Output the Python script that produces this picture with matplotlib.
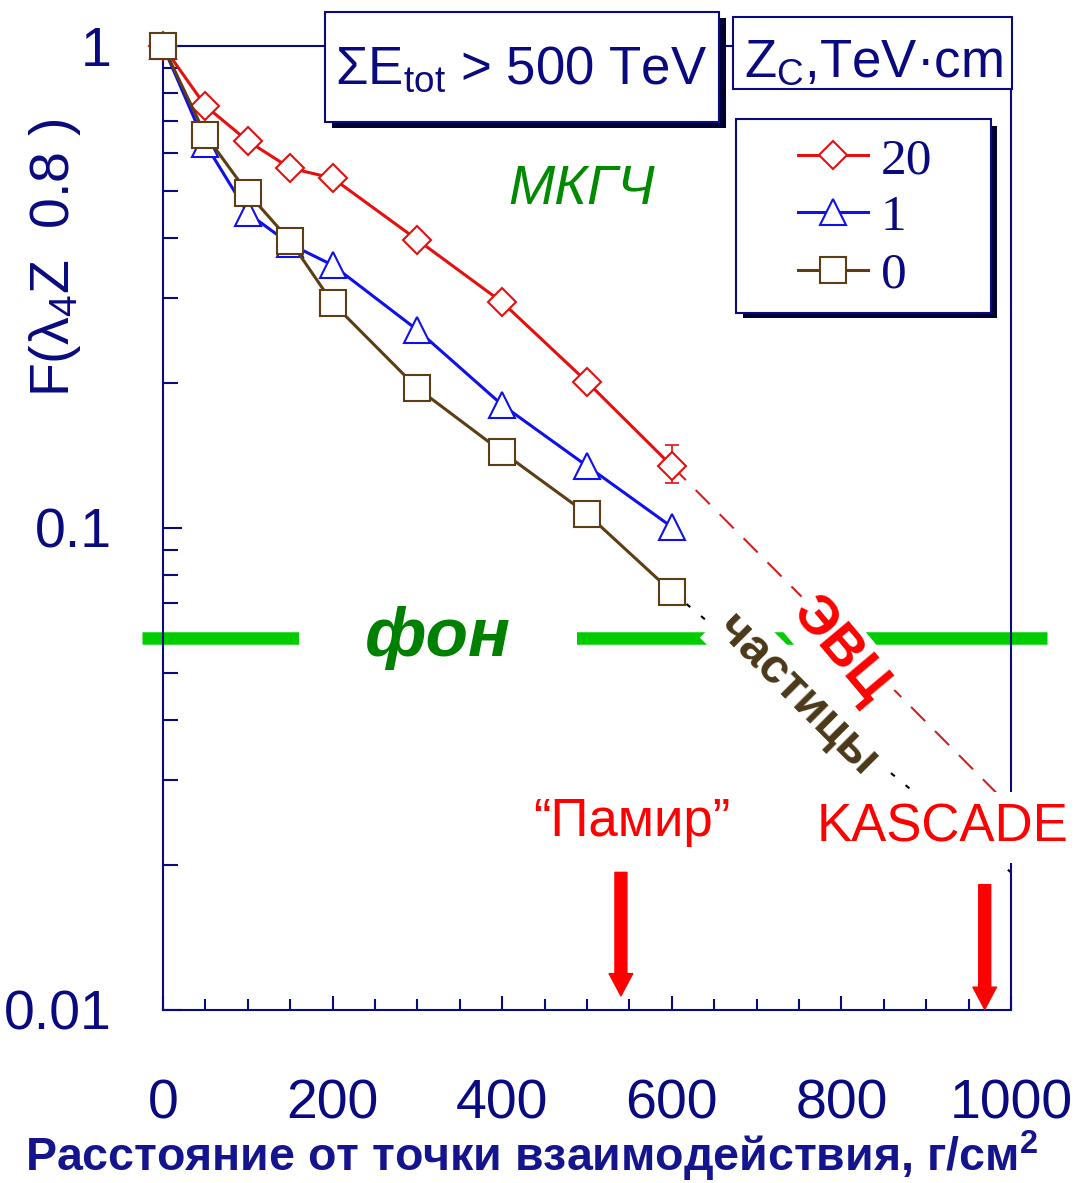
import numpy as np
import matplotlib
matplotlib.use('Agg')
import matplotlib.pyplot as plt
from matplotlib.patches import Rectangle
from matplotlib.ticker import LogLocator, NullFormatter

plt.rcParams['font.family'] = ['Liberation Sans', 'DejaVu Sans']
plt.rcParams['mathtext.fontset'] = 'custom'
plt.rcParams['mathtext.rm'] = 'Liberation Sans'
plt.rcParams['mathtext.it'] = 'Liberation Sans:italic'
plt.rcParams['mathtext.bf'] = 'Liberation Sans:bold'

# данные
depth = [0, 50, 100, 150, 200, 300, 400, 500, 600]
f_zc20 = [1.0, 0.751, 0.635, 0.558, 0.532, 0.396, 0.294, 0.201, 0.1345]
f_zc1 = [1.0, 0.626, 0.450, 0.388, 0.351, 0.2575, 0.180, 0.1345, 0.1005]
f_zc0 = [1.0, 0.654, 0.4955, 0.394, 0.293, 0.195, 0.1438, 0.107, 0.0737]
err20_lo, err20_hi = 0.0105, 0.014

evc_depth = [600, 1000]
evc_f = [0.1345, 0.0263]
part_depth = [600, 1000]
part_f = [0.0737, 0.0193]
background = 0.059

pamir_depth, pamir_f = 540, (0.0193, 0.0107)
kascade_depth, kascade_f = 969, (0.0182, 0.01003)

navy = '#0a0a80'
red = '#e41010'
blue = '#1010e8'
brown = '#5c3d14'

W, H = 1079, 1183
fig = plt.figure(figsize=(W / 100, H / 100), dpi=100)
ax = fig.add_axes([163 / W, 1 - 1010 / H, 848 / W, 964 / H])


def fx(px):
    return px / W


def fy(py):
    return 1 - py / H


def px_rect(x0, y0, x1, y1, **kw):
    return Rectangle((x0 / W, 1 - y1 / H), (x1 - x0) / W, (y1 - y0) / H,
                     transform=fig.transFigure, **kw)


# кривые
l20, = ax.plot(depth, f_zc20, color=red, lw=2.2, marker='D', ms=14, mfc='white',
               mec=red, mew=1.5, zorder=4, clip_on=False)
ax.errorbar([depth[-1]], [f_zc20[-1]], yerr=[[err20_lo], [err20_hi]], fmt='none',
            ecolor=red, elinewidth=1.2, capsize=5, capthick=1.2, zorder=3)
l1, = ax.plot(depth, f_zc1, color=blue, lw=2.2, marker='^', ms=19, mfc='white',
              mec=blue, mew=1.5, zorder=5, clip_on=False)
l0, = ax.plot(depth, f_zc0, color=brown, lw=2.2, marker='s', ms=19, mfc='white',
              mec=brown, mew=1.5, zorder=6, clip_on=False)

ax.plot(evc_depth, evc_f, color='#d42020', lw=1.5, ls=(0, (9.6, 6.7)), zorder=2)
ax.plot(part_depth, part_f, color='black', lw=1.5, ls=(0, (2.4, 6.7)), zorder=2)

# фон
ax.axhline(background, xmin=-0.025, xmax=1.043, color='#00cc00', lw=9,
           solid_capstyle='butt', clip_on=False, zorder=2)
ax.text(324, background, 'фон', fontsize=50, fontweight='bold', style='italic',
        color='#008000', ha='center', va='center', zorder=7,
        bbox=dict(boxstyle='square,pad=0.95', fc='white', ec='none'))
ax.text(748, 0.045, 'частицы', fontsize=35, fontweight='bold', color='#4a3818',
        rotation=-45, ha='center', va='center', rotation_mode='anchor', zorder=7,
        bbox=dict(boxstyle='square,pad=0.12', fc='white', ec='none'))
ax.text(798, 0.0558, 'ЭВЦ', fontsize=40, fontweight='bold', color='#ff0000',
        rotation=-50, ha='center', va='center', rotation_mode='anchor', zorder=8,
        bbox=dict(boxstyle='square,pad=0.1', fc='white', ec='none'))
ax.text(494, 0.503, 'МКГЧ', fontsize=40, style='italic', color='#008a00',
        ha='center', va='center', zorder=7)

ax.text(553, 0.0245, '\u201cПамир\u201d', fontsize=38, color='#ff0000',
        ha='center', va='center', zorder=7)
ax.text(919, 0.0239, 'KASCADE', fontsize=38, color='#ff0000', ha='center',
        va='center', zorder=7,
        bbox=dict(boxstyle='square,pad=0.2', fc='white', ec='none'))

arrow = dict(color='#ff0000', width=8.6, headwidth=17, headlength=16, shrink=0)
ax.annotate('', xy=(pamir_depth, pamir_f[1]), xytext=(pamir_depth, pamir_f[0]),
            arrowprops=arrow, zorder=7)
ax.annotate('', xy=(kascade_depth, kascade_f[1]), xytext=(kascade_depth, kascade_f[0]),
            arrowprops=arrow, zorder=7)

# оси
ax.set_yscale('log')
ax.set_xlim(0, 1000)
ax.set_ylim(0.01, 1)
ax.set_xticks(np.arange(0, 1001, 200))
ax.set_xticks(np.arange(0, 1001, 50), minor=True)
ax.set_yticks([0.01, 0.1, 1])
ax.set_yticklabels(['0.01', '0.1', '1'])
ax.yaxis.set_minor_locator(LogLocator(subs=np.arange(2, 10)))
ax.yaxis.set_minor_formatter(NullFormatter())
ax.tick_params(which='both', direction='in', color=navy, labelcolor=navy, width=1.5)
ax.tick_params(axis='y', which='major', length=14, pad=37, labelsize=40)
ax.tick_params(axis='y', which='minor', length=11)
ax.tick_params(axis='x', which='major', length=10, pad=49, labelsize=40)
ax.tick_params(axis='x', which='minor', length=8)
for s in ax.spines.values():
    s.set_color(navy)
    s.set_linewidth(1.5)

fig.text(fx(531), fy(1156), 'Расстояние от точки взаимодействия, г/см$^{\\mathbf{2}}$',
         fontsize=33.5, fontweight='bold', color='#14148e', ha='center', va='center')
fig.text(fx(55), fy(258), 'F(λ$_4$Z  0.8 )', fontsize=40, color=navy,
         rotation=90, ha='center', va='center')

# рамки
fig.add_artist(px_rect(332, 18, 726, 128, fc='#000033', ec='none', zorder=9))
fig.add_artist(px_rect(325, 12, 719, 122, fc='white', ec=navy, lw=1.5, zorder=10))
fig.add_artist(px_rect(733, 17, 1012, 89, fc='white', ec=navy, lw=1.5, zorder=10))
fig.add_artist(px_rect(743, 126, 997, 318, fc='#000033', ec='none', zorder=9))
fig.add_artist(px_rect(736, 119, 991, 313, fc='white', ec=navy, lw=1.5, zorder=10))

fig.text(fx(521), fy(70), 'ΣE$_{\\mathrm{tot}}$ > 500 TeV', fontsize=38, color=navy,
         ha='center', va='center', zorder=11)
fig.text(fx(873), fy(63), 'Z$_{\\mathrm{C}}$,TeV·cm', fontsize=38, color=navy,
         ha='center', va='center', zorder=11)

leg = fig.legend([l20, l1, l0], ['20', '1', '0'], loc='center',
                 bbox_to_anchor=(fx(865), fy(218)), bbox_transform=fig.transFigure,
                 frameon=False, prop=dict(family='Liberation Serif', size=37),
                 handlelength=1.36, handletextpad=0.25, labelspacing=0.2, borderpad=0)
leg.set_zorder(12)
for t in leg.get_texts():
    t.set_color(navy)

fig.savefig('out.png', dpi=100)
